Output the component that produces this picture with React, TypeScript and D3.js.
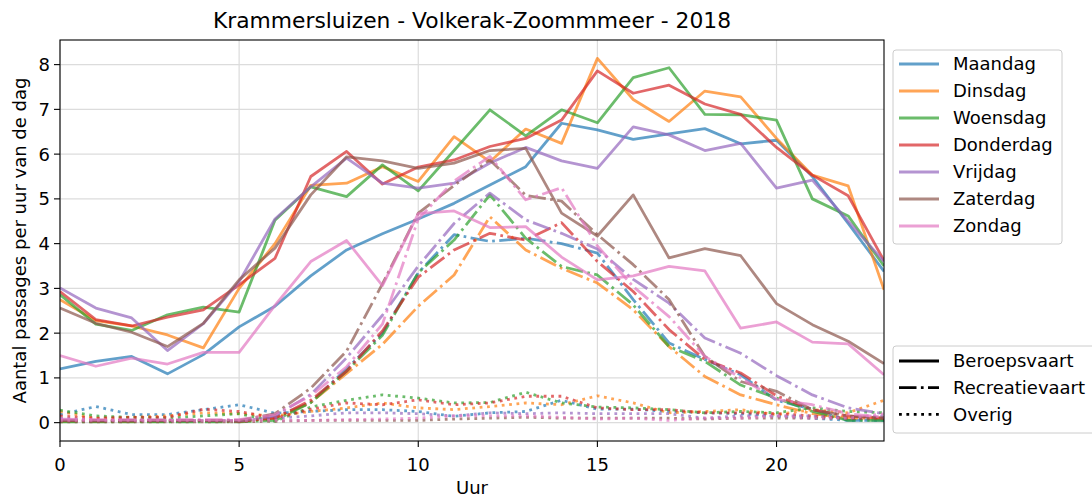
import React from "react";
import * as d3 from "d3";

const hours = d3.range(0, 24);
const days = ["Maandag", "Dinsdag", "Woensdag", "Donderdag", "Vrijdag", "Zaterdag", "Zondag"];
const dayColors = ["#1f77b4", "#ff7f0e", "#2ca02c", "#d62728", "#9467bd", "#8c564b", "#e377c2"];
const types = ["Beroepsvaart", "Recreatievaart", "Overig"];
const xTicks = [0, 5, 10, 15, 20];
const yTicks = [0, 1, 2, 3, 4, 5, 6, 7, 8];

const beroepsMaandag = [1.2, 1.37, 1.48, 1.09, 1.52, 2.14, 2.6, 3.28, 3.86, 4.22, 4.55, 4.9, 5.31, 5.72, 6.69, 6.54, 6.33, 6.45, 6.57, 6.23, 6.31, 5.5, 4.45, 3.38];
const beroepsDinsdag = [2.75, 2.28, 2.16, 1.96, 1.67, 3.0, 4.0, 5.3, 5.35, 5.72, 5.39, 6.39, 5.83, 6.56, 6.24, 8.14, 7.22, 6.73, 7.41, 7.28, 6.35, 5.53, 5.29, 2.97];
const beroepsWoensdag = [2.86, 2.2, 2.06, 2.41, 2.58, 2.47, 4.52, 5.27, 5.05, 5.76, 5.18, 6.08, 6.99, 6.41, 6.99, 6.7, 7.71, 7.93, 6.89, 6.88, 6.76, 5.0, 4.62, 3.5];
const beroepsDonderdag = [2.93, 2.3, 2.16, 2.36, 2.52, 3.08, 3.67, 5.5, 6.06, 5.33, 5.71, 5.87, 6.17, 6.35, 6.76, 7.86, 7.36, 7.54, 7.12, 6.89, 6.15, 5.53, 5.07, 3.62];
const beroepsVrijdag = [3.01, 2.56, 2.34, 1.61, 2.21, 3.15, 4.55, 5.27, 5.91, 5.35, 5.24, 5.35, 5.8, 6.15, 5.85, 5.68, 6.61, 6.43, 6.08, 6.24, 5.24, 5.42, 4.5, 3.6];
const beroepsZaterdag = [2.56, 2.22, 2.02, 1.7, 2.22, 3.19, 3.9, 5.09, 5.94, 5.85, 5.68, 5.8, 6.08, 6.13, 4.68, 4.17, 5.09, 3.68, 3.89, 3.73, 2.66, 2.19, 1.82, 1.32];
const beroepsZondag = [1.5, 1.26, 1.44, 1.31, 1.57, 1.57, 2.62, 3.6, 4.07, 3.06, 4.67, 4.73, 4.36, 4.38, 3.7, 3.19, 3.28, 3.49, 3.39, 2.11, 2.25, 1.8, 1.76, 1.07];

const recreatieMaandag = [0.04, 0.03, 0.04, 0.03, 0.04, 0.03, 0.12, 0.45, 1.2, 2.0, 3.35, 4.2, 4.05, 4.12, 4.0, 3.79, 2.75, 1.78, 1.41, 1.07, 0.5, 0.3, 0.05, 0.05];
const recreatieDinsdag = [0.03, 0.03, 0.03, 0.03, 0.04, 0.03, 0.1, 0.45, 1.1, 1.75, 2.6, 3.3, 4.6, 3.86, 3.45, 3.12, 2.52, 1.7, 1.03, 0.62, 0.4, 0.2, 0.1, 0.1];
const recreatieWoensdag = [0.02, 0.02, 0.02, 0.02, 0.02, 0.02, 0.05, 0.45, 1.15, 1.95, 3.35, 4.08, 5.09, 4.12, 3.49, 3.3, 2.63, 1.7, 1.37, 0.84, 0.55, 0.25, 0.05, 0.05];
const recreatieDonderdag = [0.05, 0.04, 0.04, 0.05, 0.05, 0.03, 0.1, 0.5, 1.15, 2.05, 3.25, 3.86, 4.23, 4.08, 4.47, 3.6, 2.93, 2.08, 1.41, 1.11, 0.6, 0.29, 0.15, 0.1];
const recreatieVrijdag = [0.06, 0.05, 0.05, 0.05, 0.05, 0.04, 0.15, 0.63, 1.45, 2.4, 3.5, 4.45, 5.13, 4.53, 4.23, 3.88, 3.2, 2.67, 1.89, 1.55, 1.05, 0.62, 0.33, 0.2];
const recreatieZaterdag = [0.05, 0.05, 0.05, 0.05, 0.05, 0.05, 0.2, 0.77, 1.6, 3.1, 4.68, 5.3, 5.87, 5.08, 4.95, 4.2, 3.53, 2.75, 1.48, 0.92, 0.7, 0.29, 0.15, 0.1];
const recreatieZondag = [0.08, 0.07, 0.07, 0.07, 0.07, 0.07, 0.18, 0.6, 1.25, 2.2, 4.55, 5.4, 5.95, 4.98, 5.25, 3.95, 3.04, 2.37, 1.48, 1.0, 0.52, 0.4, 0.2, 0.12];

const overigMaandag = [0.18, 0.36, 0.18, 0.18, 0.29, 0.4, 0.21, 0.25, 0.29, 0.29, 0.25, 0.14, 0.22, 0.25, 0.5, 0.3, 0.3, 0.25, 0.22, 0.2, 0.15, 0.1, 0.05, 0.05];
const overigDinsdag = [0.25, 0.1, 0.12, 0.15, 0.22, 0.2, 0.15, 0.25, 0.33, 0.44, 0.33, 0.29, 0.36, 0.44, 0.4, 0.6, 0.44, 0.22, 0.25, 0.29, 0.18, 0.29, 0.22, 0.5];
const overigWoensdag = [0.28, 0.15, 0.12, 0.1, 0.15, 0.2, 0.03, 0.35, 0.5, 0.62, 0.55, 0.44, 0.45, 0.68, 0.44, 0.35, 0.33, 0.29, 0.22, 0.25, 0.22, 0.33, 0.25, 0.22];
const overigDonderdag = [0.15, 0.1, 0.12, 0.12, 0.3, 0.25, 0.1, 0.3, 0.44, 0.4, 0.51, 0.4, 0.44, 0.59, 0.59, 0.33, 0.29, 0.29, 0.22, 0.22, 0.2, 0.15, 0.1, 0.1];
const overigVrijdag = [0.1, 0.05, 0.05, 0.05, 0.05, 0.05, 0.1, 0.15, 0.22, 0.22, 0.2, 0.15, 0.22, 0.2, 0.22, 0.2, 0.2, 0.2, 0.1, 0.15, 0.15, 0.15, 0.1, 0.15];
const overigZaterdag = [0.02, 0.02, 0.02, 0.02, 0.02, 0.02, 0.03, 0.05, 0.05, 0.05, 0.05, 0.08, 0.1, 0.12, 0.1, 0.1, 0.1, 0.1, 0.08, 0.1, 0.1, 0.1, 0.1, 0.1];
const overigZondag = [0.05, 0.05, 0.05, 0.05, 0.05, 0.05, 0.05, 0.05, 0.07, 0.08, 0.1, 0.15, 0.15, 0.15, 0.12, 0.08, 0.1, 0.05, 0.1, 0.1, 0.15, 0.1, 0.1, 0.2];

const beroeps = [beroepsMaandag, beroepsDinsdag, beroepsWoensdag, beroepsDonderdag, beroepsVrijdag, beroepsZaterdag, beroepsZondag];
const recreatie = [recreatieMaandag, recreatieDinsdag, recreatieWoensdag, recreatieDonderdag, recreatieVrijdag, recreatieZaterdag, recreatieZondag];
const overig = [overigMaandag, overigDinsdag, overigWoensdag, overigDonderdag, overigVrijdag, overigZaterdag, overigZondag];

const W = 1092, H = 498;
const L = 60, R = 884, T = 40, B = 441;
const FONT = "'DejaVu Sans', sans-serif";
const LW = 2.78;
const DASHDOT = "17.5,4.4,2.7,4.4";
const DOTTED = "2.8,4.6";
const FS = 18;

export default function App() {
  const x = d3.scaleLinear().domain([0, 23]).range([L, R]);
  const y = d3.scaleLinear().domain([-0.41, 8.55]).range([B, T]);
  const line = d3.line<number>().x((_, i) => x(hours[i])).y((d) => y(d));

  const groups = [
    { data: beroeps, dash: undefined },
    { data: recreatie, dash: DASHDOT },
    { data: overig, dash: DOTTED },
  ];

  const styleDash = [undefined, DASHDOT, DOTTED];

  return (
    <div style={{ position: "absolute", left: 0, top: 0 }}>
      <svg width={W} height={H} style={{ display: "block", background: "#fff" }} fontFamily={FONT}>
        <defs>
          <clipPath id="plotclip">
            <rect x={L} y={T} width={R - L} height={B - T} />
          </clipPath>
        </defs>
        {xTicks.map((t) => (
          <line key={"gx" + t} x1={x(t)} x2={x(t)} y1={T} y2={B} stroke="#dcdcdc" strokeWidth={1.2} />
        ))}
        {yTicks.map((t) => (
          <line key={"gy" + t} x1={L} x2={R} y1={y(t)} y2={y(t)} stroke="#dcdcdc" strokeWidth={1.2} />
        ))}
        <g clipPath="url(#plotclip)">
          {days.map((d, di) =>
            groups.map((g, gi) => (
              <path
                key={d + gi}
                d={line(g.data[di]) || ""}
                fill="none"
                stroke={dayColors[di]}
                strokeOpacity={0.7}
                strokeWidth={LW}
                strokeDasharray={g.dash}
                strokeLinejoin="round"
              />
            ))
          )}
        </g>
        <rect x={L} y={T} width={R - L} height={B - T} fill="none" stroke="#000" strokeWidth={1.1} />
        {xTicks.map((t) => (
          <g key={"xt" + t}>
            <line x1={x(t)} x2={x(t)} y1={B} y2={B + 6} stroke="#000" strokeWidth={1.1} />
            <text x={x(t)} y={471} textAnchor="middle" fontSize={FS} fill="#000">{t}</text>
          </g>
        ))}
        {yTicks.map((t) => (
          <g key={"yt" + t}>
            <line x1={L - 6} x2={L} y1={y(t)} y2={y(t)} stroke="#000" strokeWidth={1.1} />
            <text x={50} y={y(t)} dy="0.36em" textAnchor="end" fontSize={FS} fill="#000">{t}</text>
          </g>
        ))}
        <text x={(L + R) / 2} y={28} textAnchor="middle" fontSize={21.8} fill="#000">
          Krammersluizen - Volkerak-Zoommmeer - 2018
        </text>
        <text x={(L + R) / 2} y={494} textAnchor="middle" fontSize={FS} fill="#000">Uur</text>
        <text transform={`translate(26, ${(T + B) / 2}) rotate(-90)`} textAnchor="middle" fontSize={FS} fill="#000">
          Aantal passages per uur van de dag
        </text>
        <rect x={893} y={50} width={169} height={194} rx={3} fill="#fff" fillOpacity={0.8} stroke="#cccccc" strokeWidth={1} />
        {days.map((d, i) => {
          const cy = 64 + i * 27;
          return (
            <g key={"ld" + d}>
              <line x1={899} x2={939} y1={cy} y2={cy} stroke={dayColors[i]} strokeOpacity={0.7} strokeWidth={LW} />
              <text x={953} y={cy} dy="0.36em" fontSize={FS} fill="#000">{d}</text>
            </g>
          );
        })}
        <rect x={893} y={346} width={203} height={87} rx={3} fill="#fff" fillOpacity={0.8} stroke="#cccccc" strokeWidth={1} />
        {types.map((t, i) => {
          const cy = 361 + i * 26.7;
          return (
            <g key={"lt" + t}>
              <line x1={899} x2={939} y1={cy} y2={cy} stroke="#000" strokeWidth={LW} strokeDasharray={styleDash[i]} />
              <text x={953} y={cy} dy="0.36em" fontSize={FS} fill="#000">{t}</text>
            </g>
          );
        })}
      </svg>
    </div>
  );
}
